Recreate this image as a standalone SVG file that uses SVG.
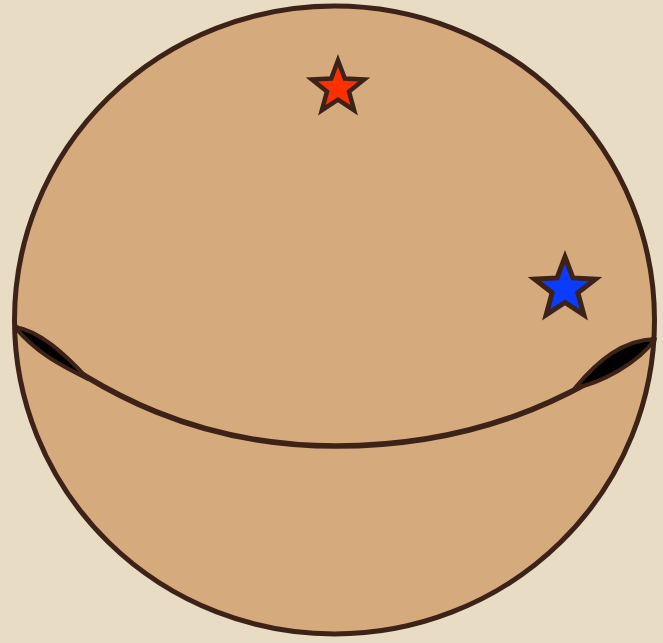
<svg xmlns="http://www.w3.org/2000/svg" width="663" height="643" viewBox="0 0 663 643">
  <style>
    .ink { stroke: #3d2218; stroke-linejoin: miter; stroke-miterlimit: 10; }
    .lens { fill: #000; stroke: #3d2218; stroke-width: 4; stroke-linejoin: round; }
  </style>
  <rect x="0" y="0" width="663" height="643" fill="#e8dcc4"/>
  <g id="sphere">
    <ellipse cx="334.5" cy="320" rx="320" ry="314" fill="#d5ab7d" class="ink" stroke-width="5"/>
  </g>
  <g id="equator">
    <path d="M14,326 C 100,395 200,446 336,446 C 470,446 572,402 655,339" fill="none" class="ink" stroke-width="5.5"/>
    <path class="lens" d="M15,327 C 40,331 65,354 88,379 C 60,365 35,352 15,327 Z"/>
    <path class="lens" d="M655,339 C 623,340 598,360 575,388 C 600,383 638,364 655,339 Z"/>
  </g>
  <g id="red-star">
    <path d="M338,60.5 L344.82,78.62 L364.16,79.5 L349.03,91.58 L354.16,110.25 L338,99.6 L321.84,110.25 L326.97,91.58 L311.84,79.5 L331.18,78.62 Z" fill="#ff3000" class="ink" stroke-width="4.5"/>
  </g>
  <g id="blue-star">
    <path d="M565,257 L572.92,277.92 L595.43,279.11 L577.84,292.73 L583.81,314.89 L565,302.5 L546.19,314.89 L552.16,292.73 L534.57,279.11 L557.08,277.92 Z" fill="#0a3cff" class="ink" stroke-width="5"/>
  </g>
</svg>
